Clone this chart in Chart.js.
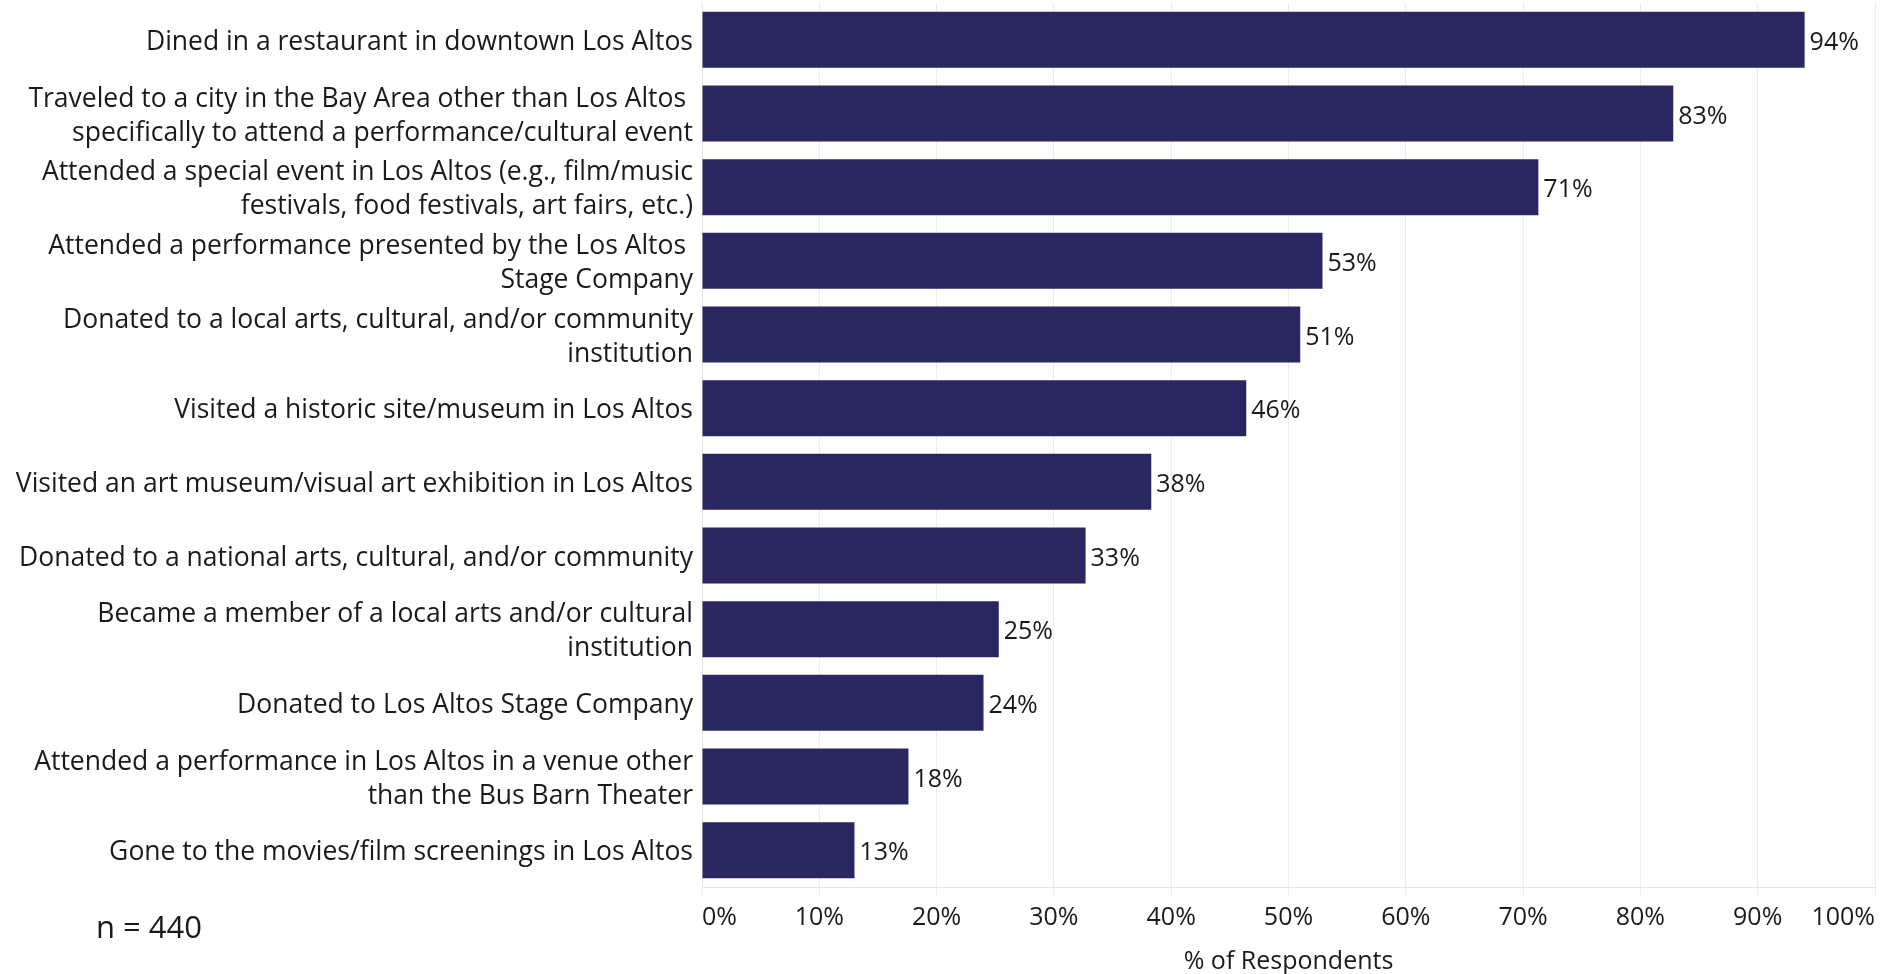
<!DOCTYPE html>
<html>
<head>
<meta charset="utf-8">
<script src="https://cdn.jsdelivr.net/npm/chart.js@4/dist/chart.umd.min.js"></script>
<style>
  html, body { margin: 0; padding: 0; background: #ffffff; }
  #wrap { width: 1887px; height: 974px; position: relative; }
</style>
</head>
<body>
<div id="wrap"><canvas id="c" width="1887" height="974"></canvas></div>
<script>
// ---- Data ----
const categories = [
  "Dined in a restaurant in downtown Los Altos",
  ["Traveled to a city in the Bay Area other than Los Altos ", "specifically to attend a performance/cultural event"],
  ["Attended a special event in Los Altos (e.g., film/music", "festivals, food festivals, art fairs, etc.)"],
  ["Attended a performance presented by the Los Altos ", "Stage Company"],
  ["Donated to a local arts, cultural, and/or community", "institution"],
  "Visited a historic site/museum in Los Altos",
  "Visited an art museum/visual art exhibition in Los Altos",
  "Donated to a national arts, cultural, and/or community",
  ["Became a member of a local arts and/or cultural", "institution"],
  "Donated to Los Altos Stage Company",
  ["Attended a performance in Los Altos in a venue other", "than the Bus Barn Theater"],
  "Gone to the movies/film screenings in Los Altos"
];
const percentRespondents = [94.0, 82.8, 71.3, 52.9, 51.0, 46.4, 38.3, 32.7, 25.3, 24.0, 17.6, 13.0];
const xTickValues = [0, 10, 20, 30, 40, 50, 60, 70, 80, 90, 100];
const xAxisTitle = "% of Respondents";
const sampleNote = "n = 440";

const FONT = "'Open Sans', 'Noto Sans', sans-serif";
const TEXT = "#1a1a1a";

const valueLabels = {
  id: 'valueLabels',
  afterDatasetsDraw(chart) {
    const ctx = chart.ctx;
    const meta = chart.getDatasetMeta(0);
    ctx.save();
    ctx.font = "25px " + FONT;
    ctx.fillStyle = TEXT;
    ctx.textAlign = 'left';
    ctx.textBaseline = 'middle';
    meta.data.forEach((bar, i) => {
      const v = chart.data.datasets[0].data[i];
      ctx.fillText(Math.round(v) + '%', bar.x + 5, bar.y + 3);
    });
    ctx.restore();
  }
};

const noteLabel = {
  id: 'noteLabel',
  afterDraw(chart) {
    const ctx = chart.ctx;
    ctx.save();
    ctx.font = "31px " + FONT;
    ctx.fillStyle = TEXT;
    ctx.textAlign = 'left';
    ctx.textBaseline = 'middle';
    ctx.fillText(sampleNote, 96, 929);
    ctx.restore();
  }
};

new Chart(document.getElementById('c'), {
  type: 'bar',
  data: {
    labels: categories,
    datasets: [{
      data: percentRespondents,
      backgroundColor: '#2a2660',
      borderWidth: 0,
      barPercentage: 0.76,
      categoryPercentage: 1.0
    }]
  },
  options: {
    indexAxis: 'y',
    responsive: false,
    animation: false,
    devicePixelRatio: 1,
    layout: { padding: { top: 3, right: 12, bottom: 0, left: 0 } },
    plugins: {
      legend: { display: false },
      tooltip: { enabled: false }
    },
    scales: {
      x: {
        min: 0,
        max: 100,
        afterBuildTicks(scale) {
          scale.ticks = xTickValues.map(v => ({ value: v }));
        },
        afterFit(scale) {
          scale.height = 87;
          scale.paddingLeft = 0;
          scale.paddingRight = 0;
        },
        grid: { color: '#ececec', lineWidth: 1, tickLength: 8, drawTicks: true },
        border: { display: true, color: '#e4e4e4' },
        ticks: {
          align: 'inner',
          padding: 8,
          color: TEXT,
          font: { family: FONT, size: 25 },
          callback: v => v + '%'
        },
        title: {
          display: true,
          text: xAxisTitle,
          color: TEXT,
          font: { family: FONT, size: 25, lineHeight: 1.0 },
          padding: { top: 0, bottom: 0 }
        }
      },
      y: {
        afterFit(scale) {
          scale.width = 702;
          scale.paddingTop = 0;
          scale.paddingBottom = 0;
        },
        grid: { display: false, drawTicks: false },
        border: { display: true, color: '#e4e4e4' },
        ticks: {
          padding: 9,
          labelOffset: 2.5,
          color: TEXT,
          font: { family: FONT, size: 26.5, lineHeight: 1.28 },
          autoSkip: false
        }
      }
    }
  },
  plugins: [valueLabels, noteLabel]
});
</script>
</body>
</html>
